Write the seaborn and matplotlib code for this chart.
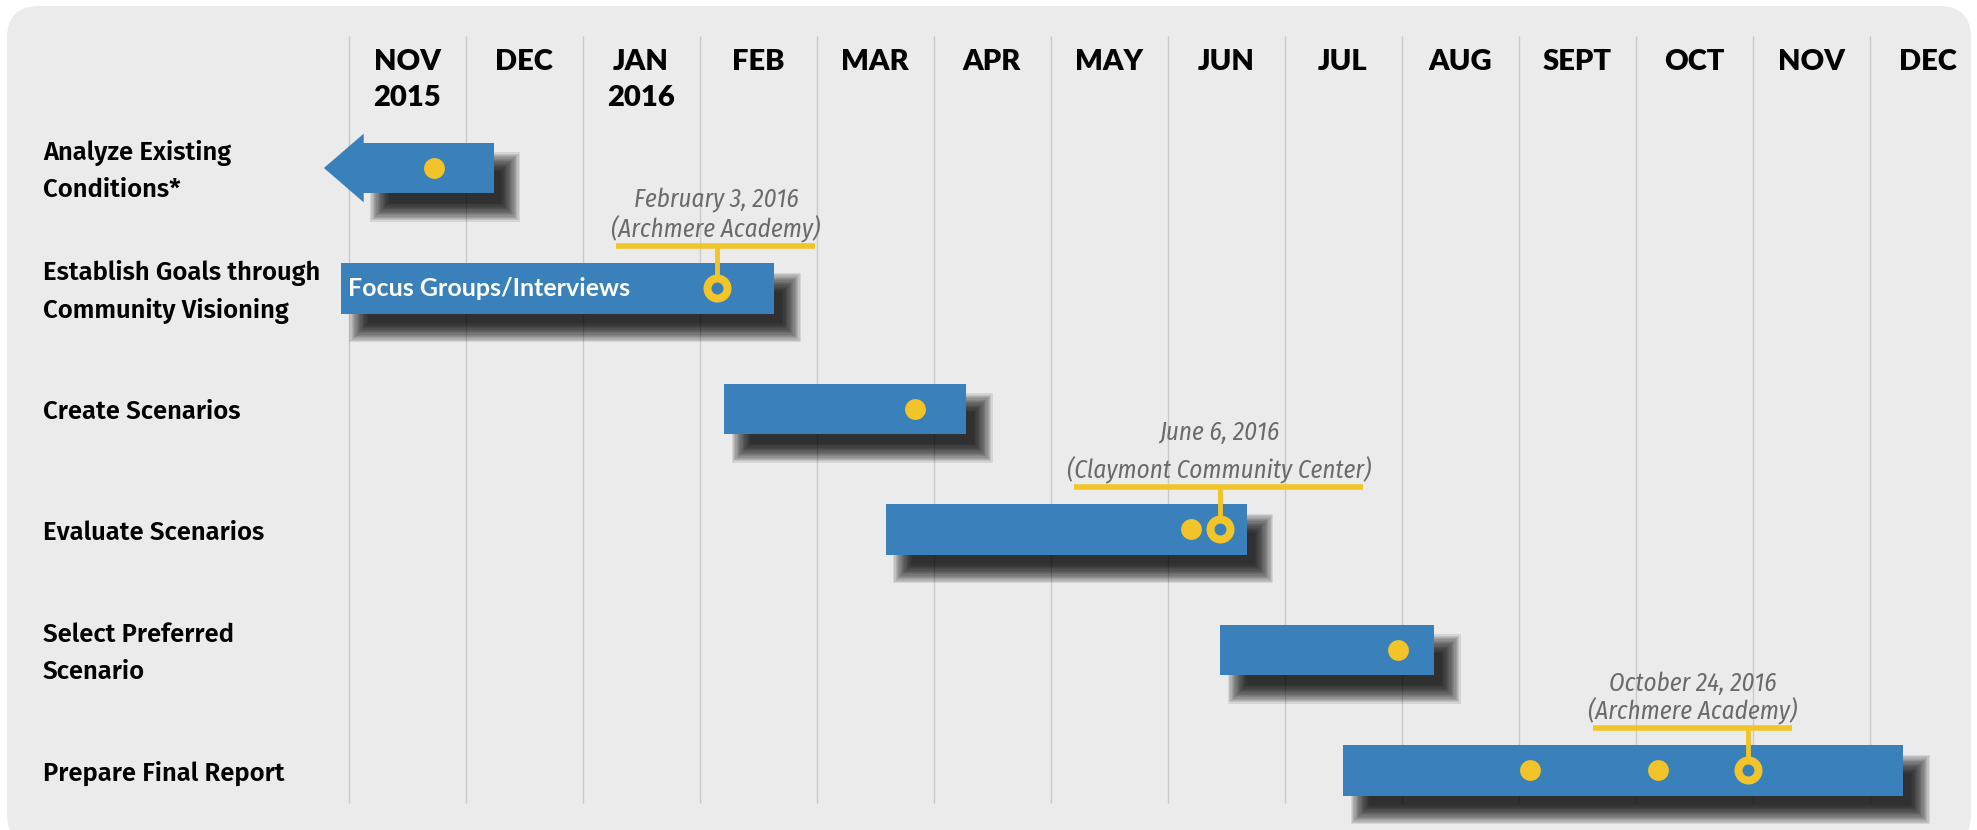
import matplotlib.pyplot as plt
import matplotlib.transforms as mtransforms
from matplotlib.patches import FancyBboxPatch, Polygon, Rectangle
import seaborn as sns
import pandas as pd

# ---- data (month units: 0 = start of Nov 2015, rows top to bottom) ----
months = ["NOV", "DEC", "JAN", "FEB", "MAR", "APR", "MAY", "JUN",
          "JUL", "AUG", "SEPT", "OCT", "NOV", "DEC"]
years = {0: "2015", 2: "2016"}
tasks = ["Analyze Existing\nConditions*",
         "Establish Goals through\nCommunity Visioning",
         "Create Scenarios",
         "Evaluate Scenarios",
         "Select Preferred\nScenario",
         "Prepare Final Report"]
task_start = [0.12, -0.06, 3.21, 4.59, 7.45, 8.50]
task_end = [1.24, 3.64, 5.28, 7.68, 9.28, 13.29]
arrow_tip = -0.21          # first task continues from earlier work
bar_text = "Focus Groups/Interviews"

dot_row = [0, 2, 3, 4, 5, 5]
dot_month = [0.73, 4.84, 7.20, 8.97, 10.10, 11.19]

meet_row = [1, 3, 5]
meet_month = [3.15, 7.45, 11.96]
meet_label = ["February 3, 2016\n(Archmere Academy)",
              "June 6, 2016\n(Claymont Community Center)",
              "October 24, 2016\n(Archmere Academy)"]
meet_label_x = [3.14, 7.44, 11.49]
meet_line_half = [0.85, 1.235, 0.85]
meet_spacing = [1.05, 1.45, 1.0]

# ---- style ----
BLUE = "#3a80ba"
YELLOW = "#f1c42a"
BG = "#ebebeb"
GRID = "#c9c9c9"
GRAY_TXT = "#6a6a6a"
W, H = 1977, 830
PX_X = 117.0     # pixels per month
PX_Y = 120.5     # pixels per row
X0, Y0 = 348.5, 168.0
HEAD_FONT = ["Lato", "DejaVu Sans"]
LABEL_FONT = ["Fira Sans", "DejaVu Sans"]
NOTE_FONT = ["Fira Sans Condensed", "DejaVu Sans"]

sns.set_theme(style="white")
plt.rcParams["font.family"] = LABEL_FONT

fig = plt.figure(figsize=(W / 100, H / 100), dpi=100)
fig.patch.set_facecolor("white")

# rounded panel behind everything
bg = fig.add_axes([0, 0, 1, 1])
bg.set_xlim(0, W)
bg.set_ylim(H, 0)
bg.axis("off")
bg.add_patch(FancyBboxPatch((7, 6), W - 13, H + 10,
                            boxstyle="round,pad=0,rounding_size=32",
                            fc=BG, ec="none"))

ax = fig.add_axes([0, 0, 1, 1])
ax.patch.set_alpha(0)

# month grid lines and header
ax.vlines(range(len(months)), (36 - Y0) / PX_Y, (803 - Y0) / PX_Y,
          color=GRID, lw=1, zorder=1)
for i, m in enumerate(months):
    ax.text(i + 0.5, (62 - Y0) / PX_Y, m, ha="center", va="center",
            family=HEAD_FONT, weight="heavy", fontsize=21, color="black")
    if i in years:
        ax.text(i + 0.5, (98 - Y0) / PX_Y, years[i], ha="center", va="center",
                family=HEAD_FONT, weight="heavy", fontsize=21, color="black")

# task labels on the left
lab_tr = mtransforms.blended_transform_factory(fig.transFigure, ax.transData)
for r, t in enumerate(tasks):
    ax.text(43 / W, r + 0.025, t, transform=lab_tr, ha="left", va="center",
            fontsize=18.5, weight="semibold", color="black", linespacing=1.6)

# soft drop shadows
bar_h = 0.42
sdx, sdy, blur = 17 / PX_X, 19 / PX_Y, 10
n_layers = 16
for r, (s, e) in enumerate(zip(task_start, task_end)):
    for k in range(n_layers):
        g = blur * (1 - 2 * (k + 0.5) / n_layers)
        gx, gy = g / PX_X, g / PX_Y
        ax.add_patch(Rectangle((s + sdx - gx, r - bar_h / 2 + sdy - gy),
                               e - s + 2 * gx, bar_h + 2 * gy,
                               fc="black", ec="none", alpha=0.09, zorder=2))

# bars
ax.barh(range(len(tasks)), [e - s for s, e in zip(task_start, task_end)],
        left=task_start, height=bar_h, color=BLUE, linewidth=0, zorder=3)
head_h = 0.57
ax.add_patch(Polygon([(arrow_tip, 0),
                      (task_start[0] + 0.01, -head_h / 2),
                      (task_start[0] + 0.01, head_h / 2)],
                     closed=True, fc=BLUE, ec="none", zorder=3))
ax.text(task_start[1] + 0.055, 1.0, bar_text, ha="left", va="center",
        family=HEAD_FONT, weight="bold", fontsize=18,
        color="white", zorder=4)

# meeting call-outs
for r, mx, lab, lx, hw, sp in zip(meet_row, meet_month, meet_label,
                                  meet_label_x, meet_line_half, meet_spacing):
    ly = r - 0.35
    ax.plot([lx - hw, lx + hw], [ly, ly], color=YELLOW, lw=4,
            solid_capstyle="butt", zorder=5)
    ax.plot([mx, mx], [ly, r - 0.08], color=YELLOW, lw=3.5, zorder=5)
    ax.text(lx, ly - 0.04, lab, ha="center", va="bottom", fontsize=18,
            style="italic", weight="normal", color=GRAY_TXT, family=NOTE_FONT,
            linespacing=sp, zorder=5)

dots = pd.DataFrame({"month": dot_month, "row": dot_row})
meets = pd.DataFrame({"month": meet_month, "row": meet_row})
sns.scatterplot(data=dots, x="month", y="row", ax=ax, s=225, color=YELLOW,
                linewidth=0, zorder=6, legend=False)
sns.scatterplot(data=meets, x="month", y="row", ax=ax, s=207, color=BLUE,
                edgecolor=YELLOW, linewidth=5.8, zorder=6, legend=False)

ax.set_xlim(-X0 / PX_X, (W - X0) / PX_X)
ax.set_ylim((H - Y0) / PX_Y, -Y0 / PX_Y)
ax.axis("off")

fig.savefig("out.png", dpi=100, facecolor="white")
